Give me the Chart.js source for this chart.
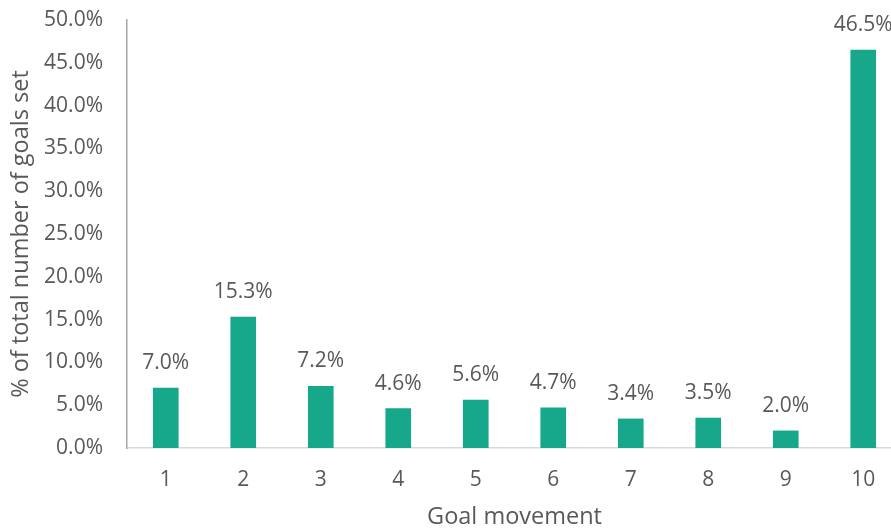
<!DOCTYPE html>
<html>
<head>
<meta charset="utf-8">
<script src="https://cdn.jsdelivr.net/npm/chart.js@4/dist/chart.umd.min.js"></script>
<style>
    html, body { margin: 0; padding: 0; background: #fff; overflow: hidden; }
    canvas { display: block; }
</style>
</head>
<body>
<canvas id="goalChart" width="902" height="532"></canvas>
<script>
// Share of goals set, by goal movement
const movements = ['1', '2', '3', '4', '5', '6', '7', '8', '9', '10'];
const shares = [7.0, 15.3, 7.2, 4.6, 5.6, 4.7, 3.4, 3.5, 2.0, 46.5];

const textColor = '#595959';
const barColor = '#17a78b';
const fontFamily = '"Open Sans", sans-serif';

// Draws the percentage above each bar
const valueLabels = {
    id: 'valueLabels',
    afterDatasetsDraw(chart) {
        const ctx = chart.ctx;
        const meta = chart.getDatasetMeta(0);
        ctx.save();
        ctx.font = '21px ' + fontFamily;
        ctx.fillStyle = textColor;
        ctx.textAlign = 'center';
        ctx.textBaseline = 'alphabetic';
        meta.data.forEach((bar, i) => {
            ctx.fillText(shares[i].toFixed(1) + '%', bar.x, bar.y - 19);
        });
        ctx.restore();
    }
};

new Chart(document.getElementById('goalChart'), {
    type: 'bar',
    data: {
        labels: movements,
        datasets: [{
            data: shares,
            backgroundColor: barColor,
            borderWidth: 0,
            barThickness: 25
        }]
    },
    options: {
        responsive: false,
        animation: false,
        layout: { padding: { top: 20, right: 0, left: 0, bottom: 0 } },
        plugins: {
            legend: { display: false },
            tooltip: { enabled: false }
        },
        scales: {
            x: {
                offset: true,
                grid: { display: false, drawTicks: false },
                border: { display: true, color: '#d9d9d9', width: 1.5 },
                ticks: {
                    color: textColor,
                    font: { family: fontFamily, size: 21 },
                    padding: 19
                },
                title: {
                    display: true,
                    text: 'Goal movement',
                    color: textColor,
                    font: { family: fontFamily, size: 23.5 },
                    padding: { top: 0, bottom: 1 }
                },
                afterFit(scale) {
                    scale.height = 84;
                    scale.paddingLeft = 0;
                    scale.paddingRight = 0;
                }
            },
            y: {
                min: 0,
                max: 50,
                grid: { display: false, drawTicks: false },
                border: { display: true, color: '#a6a6a6', width: 1.5 },
                ticks: {
                    stepSize: 5,
                    color: textColor,
                    font: { family: fontFamily, size: 21 },
                    padding: 24,
                    callback: (v) => v.toFixed(1) + '%'
                },
                title: {
                    display: true,
                    text: '% of total number of goals set',
                    color: textColor,
                    font: { family: fontFamily, size: 23.5 },
                    padding: { top: 7, bottom: 0 }
                },
                afterFit(scale) {
                    scale.width = 127;
                    scale.paddingTop = 0;
                    scale.paddingBottom = 0;
                }
            }
        }
    },
    plugins: [valueLabels]
});
</script>
</body>
</html>
